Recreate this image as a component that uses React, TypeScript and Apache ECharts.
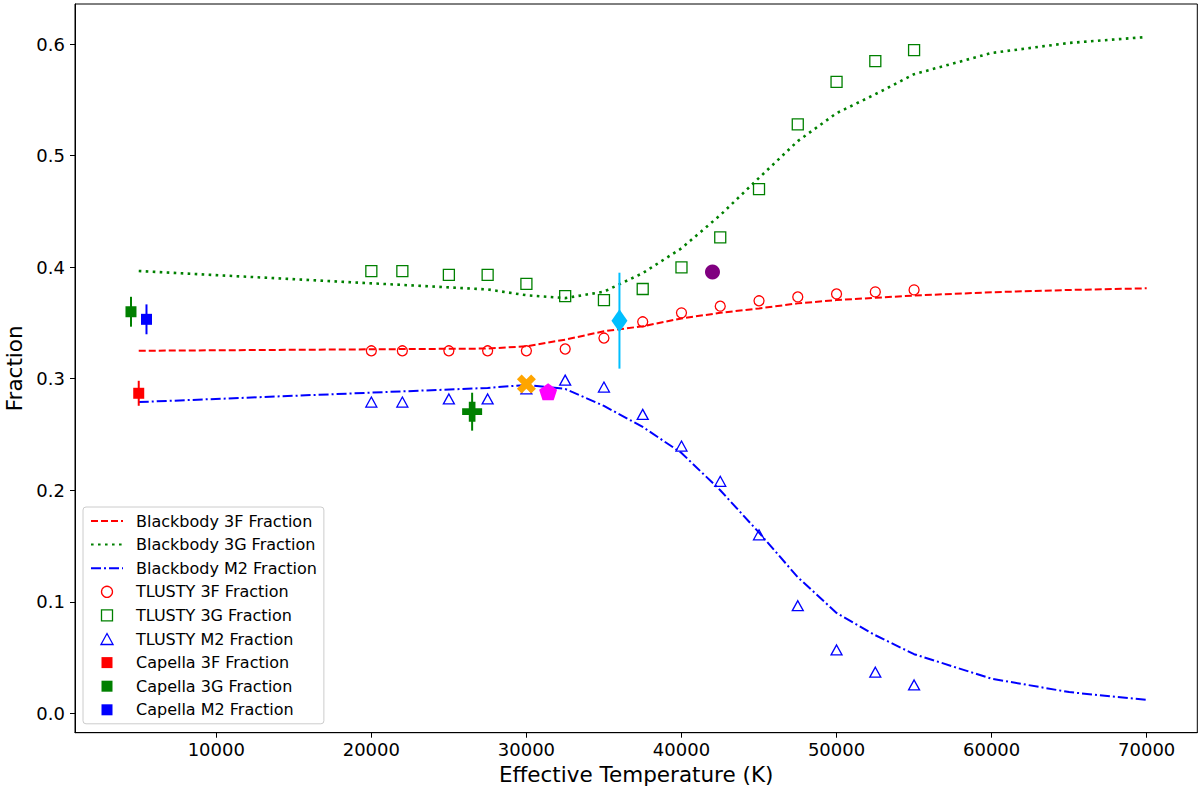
import React, { useEffect, useRef } from 'react';
import * as echarts from 'echarts';

const FONT = 'DejaVu Sans';

// Blackbody model curves
const bbTemps = [5000, 27500, 30000, 32500, 35000, 37500, 40000, 42500, 45000, 47500, 50000, 52500, 55000, 60000, 65000, 70000];
const bb3F = [0.325, 0.327, 0.329, 0.335, 0.3425, 0.347, 0.354, 0.359, 0.363, 0.3675, 0.3705, 0.3725, 0.3745, 0.3775, 0.3795, 0.381];
const bb3G = [0.3965, 0.38, 0.3748, 0.3722, 0.378, 0.3946, 0.4169, 0.4466, 0.48, 0.513, 0.538, 0.555, 0.573, 0.592, 0.601, 0.6063];
const bbM2 = [0.279, 0.2917, 0.2944, 0.2908, 0.2756, 0.2567, 0.2334, 0.2, 0.162, 0.122, 0.09, 0.07, 0.053, 0.031, 0.019, 0.012];

// TLUSTY model points
const tlTemps = [20000, 22000, 25000, 27500, 30000, 32500, 35000, 37500, 40000, 42500, 45000, 47500, 50000, 52500, 55000];
const tl3F = [0.325, 0.325, 0.325, 0.325, 0.325, 0.3266, 0.3364, 0.351, 0.359, 0.365, 0.3698, 0.3733, 0.376, 0.3778, 0.3796];
const tl3G = [0.3965, 0.3965, 0.393, 0.393, 0.385, 0.374, 0.3705, 0.3804, 0.3998, 0.4266, 0.47, 0.528, 0.566, 0.5847, 0.5946];
const tlM2 = [0.279, 0.279, 0.2818, 0.2818, 0.2908, 0.2987, 0.2925, 0.268, 0.2396, 0.208, 0.16, 0.0965, 0.0568, 0.0368, 0.0254];

// Capella measurements: 3F, 3G, M2
const capellaTemps = [5000, 4500, 5500];
const capellaVals = [0.2869, 0.36, 0.3532];
const capellaErrs = [0.0112, 0.0134, 0.0134];

// Other stars
const otherTemps = [26500, 30000, 31400, 36000, 42000];
const otherVals = [0.2704, 0.2952, 0.2883, 0.352, 0.3956];
const otherErrs = [0.017, 0, 0, 0.043, 0];

const RED = '#ff0000';
const GREEN = '#008000';
const BLUE = '#0000ff';
const otherColors = ['#008000', '#ffa500', '#ff00ff', '#00bfff', '#800080'];
const otherSymbols = [
  'path://M-1,-3L1,-3L1,-1L3,-1L3,1L1,1L1,3L-1,3L-1,1L-3,1L-3,-1L-1,-1Z',
  'path://M2,-4L4,-2L2,0L4,2L2,4L0,2L-2,4L-4,2L-2,0L-4,-2L-2,-4L0,-2Z',
  'path://M0,-1L0.951,-0.309L0.588,0.809L-0.588,0.809L-0.951,-0.309Z',
  'diamond',
  'circle',
];
const otherSizes: any[] = [20, 19, [18, 17], [16, 23], 15];

const capellaColors = [RED, GREEN, BLUE];

const SQUARE_ICON = 'path://M0,0L11,0L11,11L0,11Z';
const TRIANGLE_ICON = 'path://M5.5,0L11,10L0,10Z';

const pairs = (xs: number[], ys: number[]) => xs.map((x, i) => [x, ys[i]]);

export default function App() {
  const ref = useRef<HTMLDivElement>(null);
  useEffect(() => {
    const chart = echarts.init(ref.current!, undefined, { renderer: 'svg' });

    const errData = [
      ...capellaTemps.map((t, i) => [t, capellaVals[i], capellaErrs[i]]),
      ...otherTemps.map((t, i) => [t, otherVals[i], otherErrs[i]]),
    ];
    const errColors = [...capellaColors, ...otherColors];

    const hollow = (c: string) => ({ color: 'rgba(0,0,0,0)', borderColor: c, borderWidth: 1.3, opacity: 1 });
    const noSym = { color: 'rgba(0,0,0,0)', borderWidth: 0, borderColor: 'rgba(0,0,0,0)' };

    const series: any[] = [
      {
        name: 'Blackbody 3F Fraction', type: 'line', data: pairs(bbTemps, bb3F), symbol: 'circle', showSymbol: false, z: 2,
        lineStyle: { color: RED, width: 2, type: [7, 3] }, itemStyle: { color: RED }, silent: true,
      },
      {
        name: 'Blackbody 3G Fraction', type: 'line', data: pairs(bbTemps, bb3G), symbol: 'circle', showSymbol: false, z: 2,
        lineStyle: { color: GREEN, width: 2.6, type: [2.6, 4.4] }, itemStyle: { color: GREEN }, silent: true,
      },
      {
        name: 'Blackbody M2 Fraction', type: 'line', data: pairs(bbTemps, bbM2), symbol: 'circle', showSymbol: false, z: 2,
        lineStyle: { color: BLUE, width: 2, type: [10, 3, 2, 3] }, itemStyle: { color: BLUE }, silent: true,
      },
      {
        name: 'TLUSTY 3F Fraction', type: 'scatter', data: pairs(tlTemps, tl3F), symbol: 'circle', symbolSize: 10, z: 3,
        itemStyle: hollow(RED), silent: true,
      },
      {
        name: 'TLUSTY 3G Fraction', type: 'scatter', data: pairs(tlTemps, tl3G), symbol: 'rect', symbolSize: 11, z: 3,
        itemStyle: hollow(GREEN), silent: true,
      },
      {
        name: 'TLUSTY M2 Fraction', type: 'scatter', data: pairs(tlTemps, tlM2), symbol: 'triangle', symbolSize: [11, 10], z: 3,
        itemStyle: hollow(BLUE), silent: true,
      },
      {
        type: 'custom', z: 4, silent: true,
        data: errData,
        encode: { x: 0, y: 1 },
        renderItem: (params: any, api: any) => {
          const x = api.value(0), y = api.value(1), e = api.value(2);
          if (!e) return null;
          const p1 = api.coord([x, y - e]);
          const p2 = api.coord([x, y + e]);
          return {
            type: 'line',
            shape: { x1: p1[0], y1: p1[1], x2: p2[0], y2: p2[1] },
            style: { stroke: errColors[params.dataIndex], lineWidth: 2 },
          };
        },
      },
      ...['Capella 3F Fraction', 'Capella 3G Fraction', 'Capella M2 Fraction'].map((name, i) => ({
        name, type: 'scatter', data: [[capellaTemps[i], capellaVals[i]]], symbol: 'rect', symbolSize: 11, z: 5,
        itemStyle: { color: capellaColors[i], opacity: 1 }, silent: true,
      })),
      ...otherTemps.map((t, i) => ({
        name: 'other' + i, type: 'scatter', data: [[t, otherVals[i]]], symbol: otherSymbols[i], symbolSize: otherSizes[i], z: 6,
        itemStyle: { color: otherColors[i], opacity: 1 }, silent: true,
      })),
    ];

    chart.setOption({
      animation: false,
      backgroundColor: '#ffffff',
      grid: {
        left: 75, right: 4.7, top: 4, bottom: 56.3, containLabel: false, outerBoundsMode: 'none',
        show: true, borderColor: '#000', borderWidth: 1, backgroundColor: 'transparent',
      },
      xAxis: {
        type: 'value', min: 890, max: 73264,
        splitLine: { show: false },
        axisLine: { show: true, onZero: false, lineStyle: { color: '#000', width: 1 } },
        axisTick: { show: true, length: 5, lineStyle: { color: '#000' } },
        axisLabel: {
          fontFamily: FONT, fontSize: 18, color: '#000', margin: 8, showMinLabel: false, showMaxLabel: false,
          formatter: (v: number) => String(Math.round(v)),
        },
        name: 'Effective Temperature (K)', nameLocation: 'middle', nameGap: 29,
        nameTextStyle: { fontFamily: FONT, fontSize: 21.5, color: '#000' },
      },
      yAxis: {
        type: 'value', min: -0.0174, max: 0.6359,
        splitLine: { show: false },
        axisLine: { show: true, onZero: false, lineStyle: { color: '#000', width: 1 } },
        axisTick: { show: true, length: 5, lineStyle: { color: '#000' } },
        axisLabel: {
          fontFamily: FONT, fontSize: 18, color: '#000', margin: 10, showMinLabel: false, showMaxLabel: false,
          formatter: (v: number) => v.toFixed(1),
        },
        name: 'Fraction', nameLocation: 'middle', nameGap: 45,
        nameTextStyle: { fontFamily: FONT, fontSize: 21.5, color: '#000' },
      },
      legend: {
        orient: 'vertical', left: 83, top: 507, padding: [6, 7, 6, 7], itemWidth: 32, itemHeight: 11, itemGap: 7.6,
        backgroundColor: 'rgba(255,255,255,0.8)', borderColor: '#cccccc', borderWidth: 1, borderRadius: 3,
        selectedMode: false, z: 10, symbolKeepAspect: true,
        textStyle: { fontFamily: FONT, fontSize: 16, color: '#000', padding: [0, 0, 0, 8], lineHeight: 16 },
        data: [
          { name: 'Blackbody 3F Fraction', itemStyle: noSym },
          { name: 'Blackbody 3G Fraction', itemStyle: noSym },
          { name: 'Blackbody M2 Fraction', itemStyle: noSym },
          { name: 'TLUSTY 3F Fraction', icon: 'circle', itemStyle: hollow(RED) },
          { name: 'TLUSTY 3G Fraction', icon: SQUARE_ICON, itemStyle: hollow(GREEN) },
          { name: 'TLUSTY M2 Fraction', icon: TRIANGLE_ICON, itemStyle: hollow(BLUE) },
          { name: 'Capella 3F Fraction', icon: SQUARE_ICON, itemStyle: { color: RED, opacity: 1 } },
          { name: 'Capella 3G Fraction', icon: SQUARE_ICON, itemStyle: { color: GREEN, opacity: 1 } },
          { name: 'Capella M2 Fraction', icon: SQUARE_ICON, itemStyle: { color: BLUE, opacity: 1 } },
        ],
      },
      series,
    });
    return () => chart.dispose();
  }, []);
  return <div ref={ref} style={{ position: 'fixed', left: 0, top: 0, width: 1202, height: 789 }} />;
}
